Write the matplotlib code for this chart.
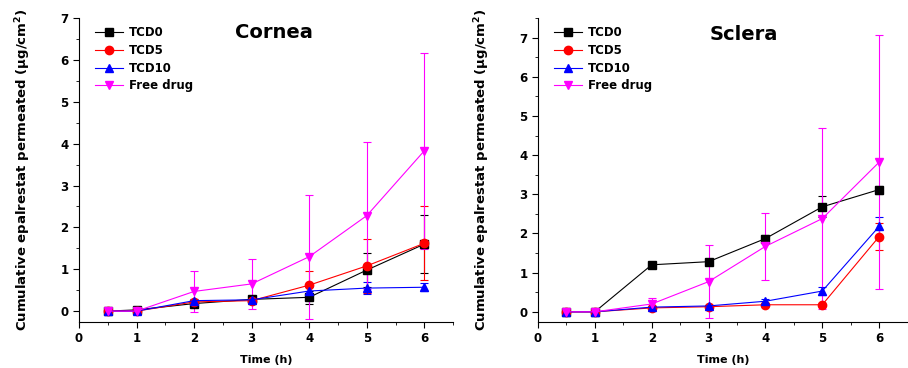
import matplotlib
matplotlib.use("Agg")
import matplotlib.pyplot as plt
from matplotlib.ticker import MultipleLocator
from matplotlib.lines import Line2D

time_h = [0.5, 1, 2, 3, 4, 5, 6]
series_names = ["TCD0", "TCD5", "TCD10", "Free drug"]

cornea_tcd0 = [0.0, 0.03, 0.18, 0.28, 0.33, 0.98, 1.60]
cornea_tcd0_err = [0.02, 0.02, 0.05, 0.05, 0.15, 0.40, 0.70]
cornea_tcd5 = [0.0, 0.0, 0.22, 0.25, 0.62, 1.08, 1.62]
cornea_tcd5_err = [0.02, 0.02, 0.05, 0.08, 0.35, 0.65, 0.88]
cornea_tcd10 = [0.0, 0.0, 0.25, 0.27, 0.48, 0.55, 0.57]
cornea_tcd10_err = [0.02, 0.02, 0.05, 0.05, 0.10, 0.15, 0.10]
cornea_free = [0.0, 0.0, 0.47, 0.65, 1.30, 2.28, 3.83]
cornea_free_err = [0.02, 0.02, 0.50, 0.60, 1.48, 1.76, 2.34]

sclera_tcd0 = [0.0, 0.0, 1.20, 1.28, 1.87, 2.68, 3.12]
sclera_tcd0_err = [0.02, 0.02, 0.05, 0.06, 0.10, 0.27, 0.10]
sclera_tcd5 = [0.0, 0.0, 0.10, 0.13, 0.18, 0.18, 1.92]
sclera_tcd5_err = [0.02, 0.02, 0.03, 0.03, 0.03, 0.03, 0.34]
sclera_tcd10 = [0.0, 0.0, 0.12, 0.15, 0.27, 0.53, 2.18]
sclera_tcd10_err = [0.02, 0.02, 0.03, 0.03, 0.05, 0.10, 0.24]
sclera_free = [0.0, 0.0, 0.20, 0.77, 1.67, 2.38, 3.82]
sclera_free_err = [0.02, 0.02, 0.15, 0.93, 0.85, 2.30, 3.25]

colors = ["black", "red", "blue", "magenta"]
markers = ["s", "o", "^", "v"]

plt.rcParams['font.family'] = ['DejaVu Sans']
plt.rcParams['font.weight'] = 'bold'

fig = plt.figure(figsize=(9.08, 3.68), dpi=100)
ax1 = fig.add_axes([0.087, 0.125, 0.412, 0.826])
ax2 = fig.add_axes([0.5925, 0.125, 0.407, 0.826])

panels = [
    (ax1, "Cornea", (0.52, 0.954), [cornea_tcd0, cornea_tcd5, cornea_tcd10, cornea_free],
     [cornea_tcd0_err, cornea_tcd5_err, cornea_tcd10_err, cornea_free_err], 7.0),
    (ax2, "Sclera", (0.557, 0.947), [sclera_tcd0, sclera_tcd5, sclera_tcd10, sclera_free],
     [sclera_tcd0_err, sclera_tcd5_err, sclera_tcd10_err, sclera_free_err], 7.5),
]

for ax, title, tpos, vals, errs, ytop in panels:
    handles = []
    for name, v, e, c, m in zip(series_names, vals, errs, colors, markers):
        ax.errorbar(time_h, v, yerr=e, color=c, marker=m, markersize=6,
                    linewidth=0.8, elinewidth=0.8, capsize=3, capthick=0.8,
                    ecolor=c)
        handles.append(Line2D([], [], color=c, marker=m, markersize=6,
                              linewidth=0.8, label=name))
    ax.set_xlim(0, 6.5)
    ax.set_ylim(-0.26, ytop)
    ax.spines['top'].set_visible(False)
    ax.spines['right'].set_visible(False)
    ax.xaxis.set_major_locator(MultipleLocator(1))
    ax.xaxis.set_minor_locator(MultipleLocator(0.5))
    ax.yaxis.set_major_locator(MultipleLocator(1))
    ax.yaxis.set_minor_locator(MultipleLocator(0.5))
    ax.tick_params(which='major', direction='out', length=4, labelsize=8.5)
    ax.tick_params(which='minor', direction='out', length=2)
    for lbl in ax.get_xticklabels() + ax.get_yticklabels():
        lbl.set_fontweight('bold')
    ax.set_xlabel("Time (h)", fontsize=8, fontweight='bold', labelpad=7)
    ax.set_ylabel("Cumulative epalrestat permeated (μg/cm$^\\mathbf{2}$)",
                  fontsize=9.5, fontweight='bold', labelpad=20)
    ax.text(tpos[0], tpos[1], title, transform=ax.transAxes,
            fontsize=14, fontweight='bold', ha='center', va='center')
    leg = ax.legend(handles=handles, loc='upper left', frameon=False, fontsize=8.5,
                    handlelength=2.4, handletextpad=0.5, borderaxespad=0.3,
                    labelspacing=0.4, bbox_to_anchor=(0.02, 1.0))
    for t in leg.get_texts():
        t.set_fontweight('bold')

fig.savefig("out.png", dpi=100)
